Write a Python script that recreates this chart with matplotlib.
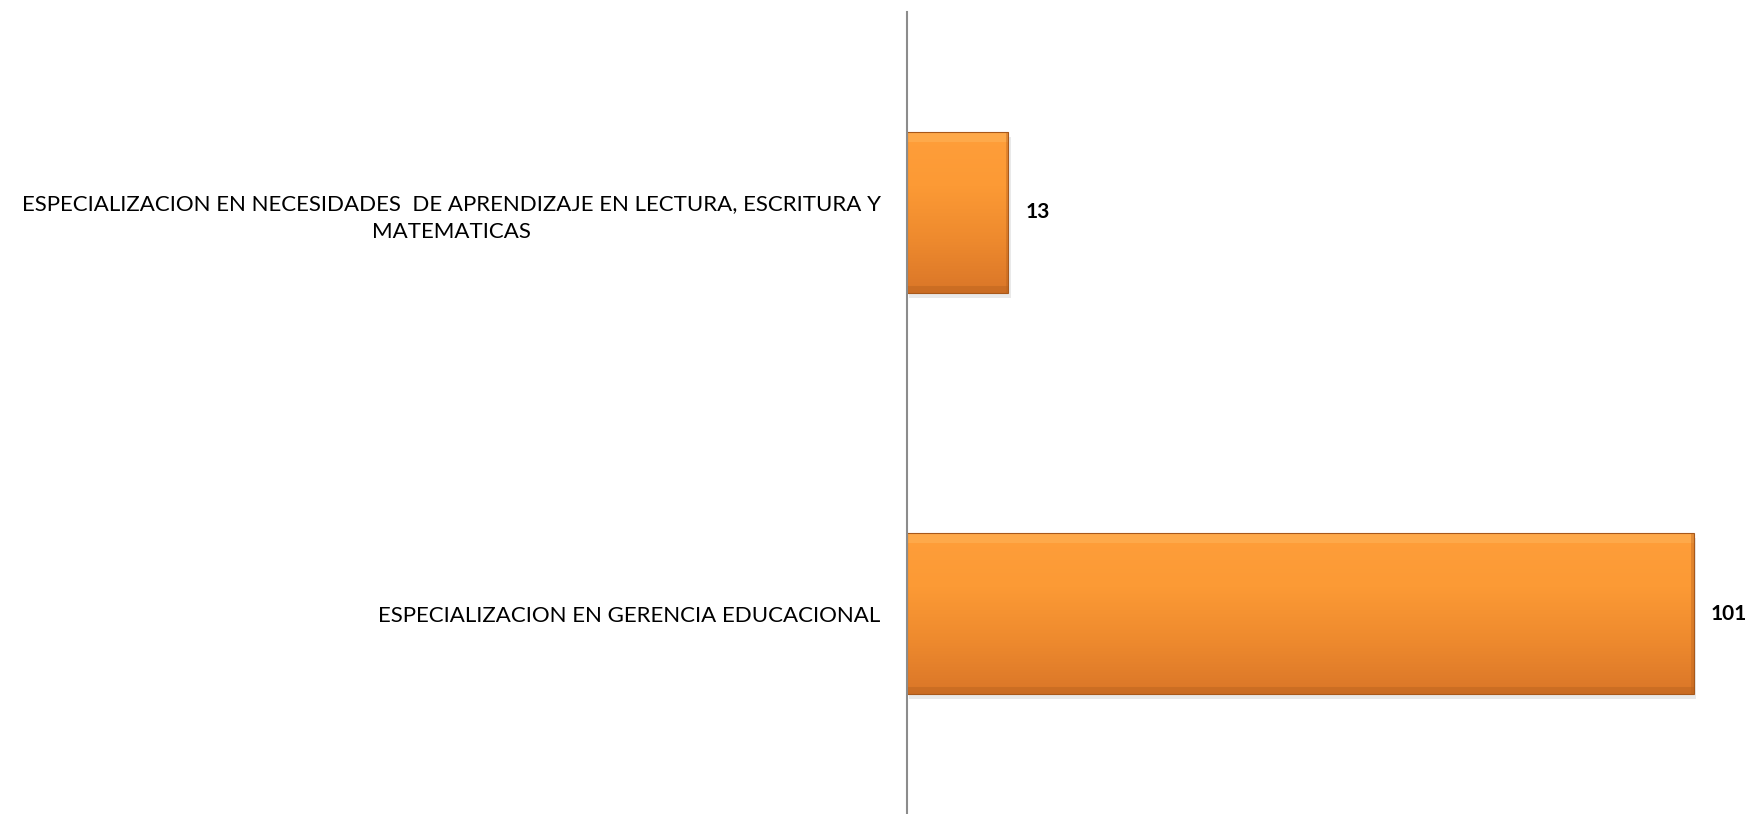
import numpy as np
import matplotlib.pyplot as plt
from matplotlib.patches import Rectangle
from matplotlib.colors import LinearSegmentedColormap

categorias = ["ESPECIALIZACION EN GERENCIA EDUCACIONAL",
              "ESPECIALIZACION EN NECESIDADES  DE APRENDIZAJE EN LECTURA, ESCRITURA Y\nMATEMATICAS"]
valores = [101, 13]

plt.rcParams['font.family'] = ['Lato', 'DejaVu Sans']

fig = plt.figure(figsize=(17.52, 8.14), dpi=100)
# axis line sits at x=907 px, top at y=12 px
ax = fig.add_axes([907/1752, 0, 1 - 907/1752, 802/814])

y = np.arange(len(categorias))
bars = ax.barh(y, valores, height=0.40, color='#F5892B', edgecolor='none', zorder=2)

# gradient fill + soft shadow to mimic the bevelled excel bars
grad = np.linspace(0, 1, 256).reshape(-1, 1)
cmap = LinearSegmentedColormap.from_list('naranja', ['#DA7628', '#EE8A2E', '#FC9A35', '#FF9E3A'])
for b in bars:
    x0, y0, w, h = b.get_x(), b.get_y(), b.get_width(), b.get_height()
    ax.add_patch(Rectangle((x0 + 0.3, y0 - 0.012), w, h, facecolor='#cfcfcf', alpha=0.45,
                           zorder=1, edgecolor='none'))
    im = ax.imshow(grad, extent=[x0, x0 + w, y0, y0 + h], origin='lower', aspect='auto',
                   cmap=cmap, zorder=3)
    im.set_clip_path(b)
    # bevel highlights
    ax.add_patch(Rectangle((x0, y0 + h * 0.94), w, h * 0.06, facecolor='#FFB860', alpha=0.45,
                           edgecolor='none', zorder=4))
    ax.add_patch(Rectangle((x0, y0), w, h * 0.04, facecolor='#B8621E', alpha=0.45,
                           edgecolor='none', zorder=4))
    ax.add_patch(Rectangle((x0 + w - 0.3, y0), 0.3, h, facecolor='#B8621E', alpha=0.4,
                           edgecolor='none', zorder=4))
    ax.add_patch(Rectangle((x0, y0), w, h, facecolor='none', edgecolor='#A8581A', lw=0.8, zorder=5))
    ax.text(x0 + w + 2.2, y0 + h / 2, str(int(w)), ha='left', va='center',
            fontsize=15, fontweight='bold', color='black', zorder=6)

ax.set_xlim(0, 108.5)
ax.set_ylim(-0.5, 1.5)
ax.set_yticks(y)
ax.set_yticklabels(categorias, fontsize=16, multialignment='center', linespacing=1.45)
ax.tick_params(axis='y', length=0, pad=19)
ax.set_xticks([])
for s in ['top', 'right', 'bottom']:
    ax.spines[s].set_visible(False)
ax.spines['left'].set_color('#8c8c8c')
ax.spines['left'].set_linewidth(1.5)
ax.spines['left'].set_zorder(7)

fig.savefig('out.png', dpi=100, facecolor='white')
